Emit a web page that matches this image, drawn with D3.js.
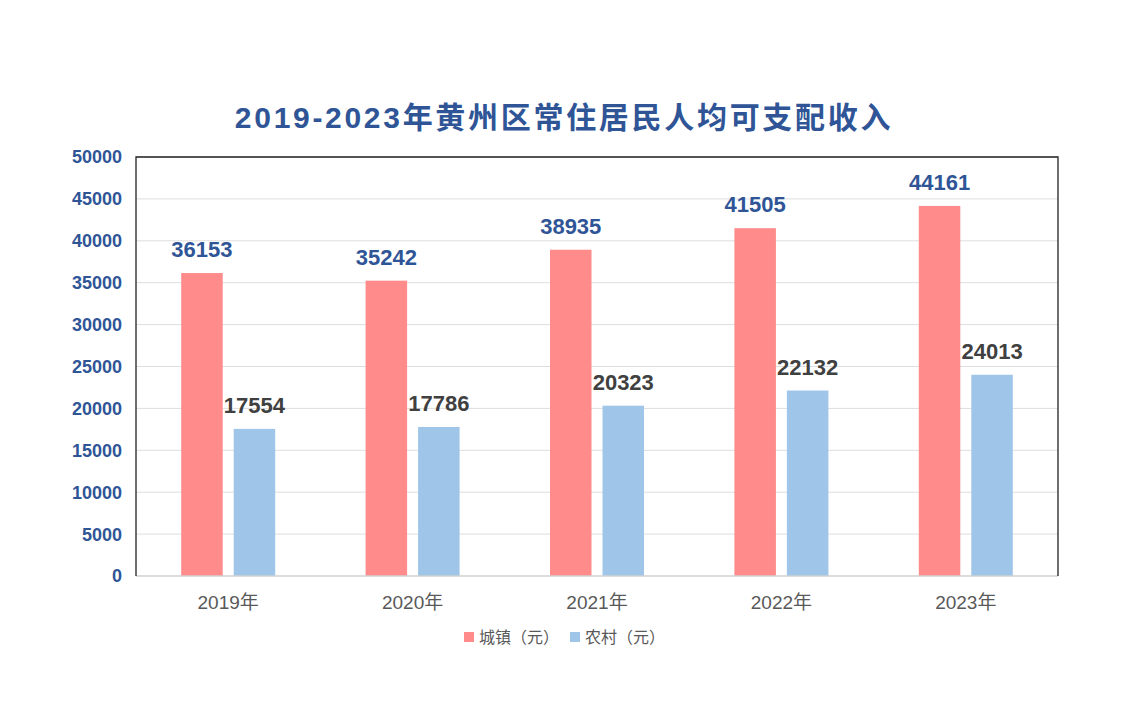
<!DOCTYPE html>
<html>
<head>
<meta charset="utf-8">
<script src="https://cdn.jsdelivr.net/npm/d3@7"></script>
<style>
  body { margin: 0; background: #fff; }
  text { font-family: Arial, "Liberation Sans", "Noto Sans CJK SC", sans-serif; }
</style>
</head>
<body>
<svg id="chart" width="1128" height="713"></svg>
<script>
// data
const years = ["2019年", "2020年", "2021年", "2022年", "2023年"];
const urban = [36153, 35242, 38935, 41505, 44161];
const rural = [17554, 17786, 20323, 22132, 24013];
const seriesNames = ["城镇（元）", "农村（元）"];
const yTicks = [0, 5000, 10000, 15000, 20000, 25000, 30000, 35000, 40000, 45000, 50000];

const colors = ["#FF8B8B", "#9FC5E8"];
const labelColors = ["#2F5597", "#404040"];

const margin = {top: 157, right: 70, bottom: 137, left: 136},
    width = 1128,
    height = 713;

const svg = d3.select("#chart");

const x = d3.scaleBand()
    .domain(years)
    .range([margin.left, width - margin.right]);

const y = d3.scaleLinear()
    .domain([0, 50000])
    .range([height - margin.bottom, margin.top]);

const barW = 41.5, gap = 11;

// gridlines
svg.append("g")
    .selectAll("line")
    .data(yTicks.slice(1))
    .enter().append("line")
    .attr("x1", margin.left).attr("x2", width - margin.right)
    .attr("y1", d => y(d)).attr("y2", d => y(d))
    .attr("stroke", "#dedede").attr("stroke-width", 1);

// bars
const series = [urban, rural];
series.forEach(function (vals, si) {
    const offset = si === 0 ? -(barW + gap / 2) : gap / 2;
    const g = svg.append("g");
    g.selectAll("rect")
        .data(vals)
        .enter().append("rect")
        .attr("x", (d, i) => x(years[i]) + x.bandwidth() / 2 + offset)
        .attr("y", d => y(d))
        .attr("width", barW)
        .attr("height", d => y(0) - y(d))
        .attr("fill", colors[si]);
    g.selectAll("text")
        .data(vals)
        .enter().append("text")
        .attr("x", (d, i) => x(years[i]) + x.bandwidth() / 2 + offset + barW / 2)
        .attr("y", d => y(d) - 16)
        .attr("text-anchor", "middle")
        .attr("font-size", 22)
        .attr("font-weight", "bold")
        .attr("fill", labelColors[si])
        .text(d => d);
});

// frame: top and right dark, bottom light
svg.append("line")
    .attr("x1", margin.left).attr("x2", width - margin.right)
    .attr("y1", y(0)).attr("y2", y(0))
    .attr("stroke", "#d0d0d0").attr("stroke-width", 1.5);
svg.append("path")
    .attr("d", `M${margin.left},${y(0)}V${margin.top}H${width - margin.right}V${y(0)}`)
    .attr("fill", "none")
    .attr("stroke", "#222").attr("stroke-width", 1.3);

// y axis labels
svg.append("g")
    .selectAll("text")
    .data(yTicks)
    .enter().append("text")
    .attr("x", 122)
    .attr("y", d => y(d))
    .attr("dy", "0.36em")
    .attr("text-anchor", "end")
    .attr("font-size", 18)
    .attr("font-weight", "bold")
    .attr("fill", "#2F5597")
    .text(d => d);

// x axis labels
svg.append("g")
    .selectAll("text")
    .data(years)
    .enter().append("text")
    .attr("x", d => x(d) + x.bandwidth() / 2)
    .attr("y", 609)
    .attr("text-anchor", "middle")
    .attr("font-size", 19)
    .attr("fill", "#595959")
    .text(d => d);

// title
svg.append("text")
    .attr("x", 564)
    .attr("y", 128)
    .attr("text-anchor", "middle")
    .attr("font-size", 30)
    .attr("font-weight", "bold")
    .attr("letter-spacing", 2.7)
    .attr("fill", "#2F5597")
    .text("2019-2023年黄州区常住居民人均可支配收入");

// legend
const legend = svg.append("g");
const legendX = [464, 570];
seriesNames.forEach(function (name, i) {
    legend.append("rect")
        .attr("x", legendX[i]).attr("y", 632)
        .attr("width", 10).attr("height", 10)
        .attr("fill", colors[i]);
    legend.append("text")
        .attr("x", legendX[i] + 15).attr("y", 643)
        .attr("font-size", 16)
        .attr("fill", "#595959")
        .text(name);
});
</script>
</body>
</html>
